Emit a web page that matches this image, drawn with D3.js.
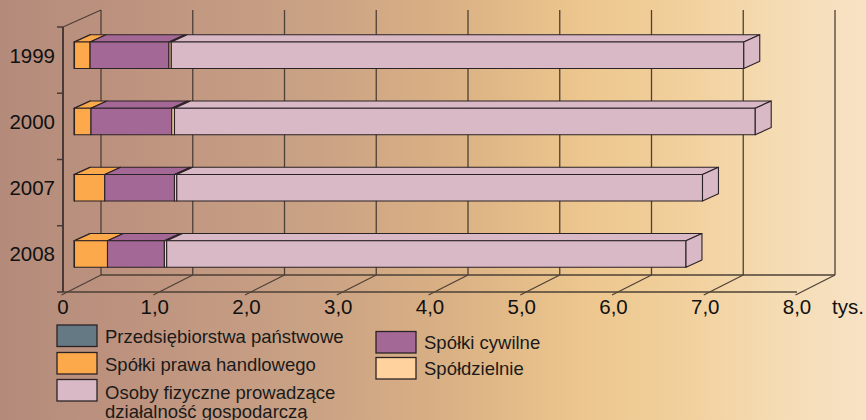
<!DOCTYPE html>
<html><head><meta charset="utf-8">
<script src="https://cdn.jsdelivr.net/npm/d3@7"></script>
<style>html,body{margin:0;padding:0;overflow:hidden}svg{display:block}</style>
</head><body>
<svg id="chart" width="866" height="420"></svg>
<script>
// ---- data ----
const years = ["1999", "2000", "2007", "2008"];
const seriesNames = ["Przedsiębiorstwa państwowe", "Spółki prawa handlowego", "Spółki cywilne", "Spółdzielnie", "Osoby fizyczne prowadzące działalność gospodarczą"];
const seriesColors = ["#657985", "#fba94a", "#a36895", "#ffd29e", "#d9b9c6"];
const przedsiebiorstwa = [0.005, 0.005, 0.005, 0.005];
const spolkiHandlowe = [0.17, 0.18, 0.33, 0.36];
const spolkiCywilne = [0.86, 0.88, 0.76, 0.62];
const spoldzielnie = [0.025, 0.03, 0.025, 0.025];
const osobyFizyczne = [6.24, 6.33, 5.73, 5.66];
const xTicks = [0, 1, 2, 3, 4, 5, 6, 7, 8];
const xTickLabels = ["0", "1,0", "2,0", "3,0", "4,0", "5,0", "6,0", "7,0", "8,0"];
const unitLabel = "tys.";

const series = [przedsiebiorstwa, spolkiHandlowe, spolkiCywilne, spoldzielnie, osobyFizyczne];

const svg = d3.select("#chart");
const font = "'Liberation Sans', Arial, sans-serif";

// background gradient
const defs = svg.append("defs");
const grad = defs.append("linearGradient").attr("id", "bg").attr("x1", "0").attr("x2", "1").attr("y1", "0").attr("y2", "0");
[[0, "#b48a7b"], [0.18, "#bf9580"], [0.35, "#c9a184"], [0.52, "#dab184"], [0.68, "#edc78e"], [0.8, "#f2d19e"], [0.9, "#f5dcb4"], [1, "#f8e2c5"]]
  .forEach(([o, c]) => grad.append("stop").attr("offset", o).attr("stop-color", c));
svg.append("rect").attr("width", 866).attr("height", 420).attr("fill", "url(#bg)");

// scales
const x = d3.scaleLinear().domain([0, 8]).range([63, 797]);
const y = d3.scaleBand().domain(years).range([27, 292]).paddingInner(0.6).paddingOuter(0.3);
const DX = 38, DY = -17;   // full depth offset
const d0 = 0.29, d1 = 0.71; // bar depth span
const yTop = 27, yBot = 292;
const gridColor = "#4d4036";

// back wall gridlines
const g = svg.append("g");
g.selectAll("line.grid").data(xTicks).join("line")
  .attr("x1", d => x(d) + DX).attr("x2", d => x(d) + DX)
  .attr("y1", yTop + DY).attr("y2", yBot + DY)
  .attr("stroke", gridColor).attr("stroke-width", 1.3);
// floor back edge
g.append("line").attr("x1", x(0) + DX).attr("x2", x(8) + DX).attr("y1", yBot + DY).attr("y2", yBot + DY)
  .attr("stroke", gridColor).attr("stroke-width", 1.3);
// floor diagonals
g.selectAll("line.diag").data(xTicks).join("line")
  .attr("x1", d => x(d) - 1.5).attr("y1", yBot + 3)
  .attr("x2", d => x(d) + DX).attr("y2", yBot + DY)
  .attr("stroke", gridColor).attr("stroke-width", 1.2);
// front axis line
g.append("line").attr("x1", x(0)).attr("x2", x(8)).attr("y1", yBot).attr("y2", yBot)
  .attr("stroke", gridColor).attr("stroke-width", 1.3);
// left axis
g.append("line").attr("x1", x(0)).attr("x2", x(0)).attr("y1", yTop).attr("y2", yBot)
  .attr("stroke", "#4a3a36").attr("stroke-width", 2);
g.append("line").attr("x1", x(0)).attr("y1", yTop).attr("x2", x(0) + DX).attr("y2", yTop + DY)
  .attr("stroke", gridColor).attr("stroke-width", 1.2);
const bounds = d3.range(years.length + 1).map(i => yTop + i * y.step());
g.selectAll("line.ytick").data(bounds).join("line")
  .attr("x1", x(0) - 6).attr("x2", x(0)).attr("y1", d => d).attr("y2", d => d)
  .attr("stroke", "#4a3a36").attr("stroke-width", 1.5);

// bars
const fdx = DX * d0, fdy = DY * d0;
const ddx = DX * (d1 - d0), ddy = DY * (d1 - d0);
const barsG = svg.append("g").attr("stroke", "#2b2226").attr("stroke-width", 1.1).attr("stroke-linejoin", "round");
years.forEach((yr, i) => {
  let acc = 0;
  const y0 = y(yr) + fdy, y1 = y(yr) + y.bandwidth() + fdy;
  series.forEach((s, k) => {
    const a = acc, b = acc + s[i];
    acc = b;
    const xa = x(a) + fdx, x1 = x(b) + fdx;
    barsG.append("polygon")
      .attr("points", [[xa, y0], [x1, y0], [x1 + ddx, y0 + ddy], [xa + ddx, y0 + ddy]].map(p => p.join(",")).join(" "))
      .attr("fill", seriesColors[k]);
    barsG.append("rect").attr("x", xa).attr("y", y0).attr("width", x1 - xa).attr("height", y1 - y0)
      .attr("fill", seriesColors[k]);
  });
  const xe = x(acc) + fdx;
  barsG.append("polygon")
    .attr("points", [[xe, y0], [xe + ddx, y0 + ddy], [xe + ddx, y1 + ddy], [xe, y1]].map(p => p.join(",")).join(" "))
    .attr("fill", seriesColors[seriesColors.length - 1]);
});

// year labels
svg.selectAll("text.year").data(years).join("text")
  .attr("x", 55).attr("y", d => y(d) + fdy + y.bandwidth() / 2)
  .attr("dy", "0.36em").attr("text-anchor", "end")
  .attr("font-family", font).attr("font-size", 20.5).attr("fill", "#111")
  .text(d => d);

// x tick labels
svg.selectAll("text.xt").data(xTicks).join("text")
  .attr("x", d => x(d)).attr("y", 313.5).attr("text-anchor", "middle")
  .attr("font-family", font).attr("font-size", 20.5).attr("fill", "#111")
  .text((d, i) => xTickLabels[i]);
svg.append("text").attr("x", 832).attr("y", 313.5)
  .attr("font-family", font).attr("font-size", 20.5).attr("fill", "#111").text(unitLabel);

// legend
const legendItems = [
  { k: 0, bx: 57, by: 325, ty: 343, lines: [seriesNames[0]] },
  { k: 1, bx: 57, by: 352.5, ty: 370.5, lines: [seriesNames[1]] },
  { k: 4, bx: 57, by: 379.5, ty: 399, lines: ["Osoby fizyczne prowadzące", "działalność gospodarczą"] },
  { k: 2, bx: 376, by: 331.5, ty: 348.5, lines: [seriesNames[2]] },
  { k: 3, bx: 376, by: 357.5, ty: 374.5, lines: [seriesNames[3]] }
];
const lg = svg.append("g");
legendItems.forEach(it => {
  lg.append("rect").attr("x", it.bx).attr("y", it.by).attr("width", 40).attr("height", 21.5)
    .attr("fill", seriesColors[it.k]).attr("stroke", "#2b2226").attr("stroke-width", 1.3);
  it.lines.forEach((t, j) => {
    lg.append("text").attr("x", it.bx + 48).attr("y", it.ty + j * 19)
      .attr("font-family", font).attr("font-size", 18.5).attr("fill", "#1a1a1a").text(t);
  });
});
</script>
</body></html>
